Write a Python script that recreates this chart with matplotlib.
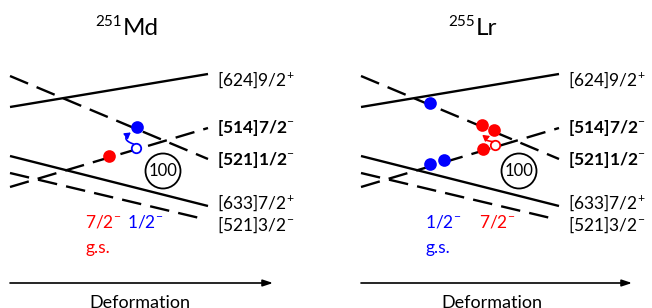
import matplotlib
matplotlib.use("Agg")
import matplotlib.pyplot as plt
import numpy as np
from matplotlib.patches import Circle

plt.rcParams['font.family'] = ['Lato', 'DejaVu Sans']
plt.rcParams['mathtext.fontset'] = 'custom'
plt.rcParams['mathtext.rm'] = 'Lato'
plt.rcParams['mathtext.bf'] = 'Lato:bold'

# ---- data ----
mass_numbers = ["251", "255"]
elements = ["Md", "Lr"]
level_names = ["[624]9/2$^{+}$", "[514]7/2$^{-}$", "[521]1/2$^{-}$", "[633]7/2$^{+}$", "[521]3/2$^{-}$"]
level_bold = [False, True, True, False, False]
level_dashed = [False, True, True, False, True]
# energies (arbitrary units) at small / large deformation
level_e_left = [201, 121, 232, 152, 135]
level_e_right = [234, 180, 149, 102, 88]
label_e = [228, 180, 148, 105, 83]
shell_gap = "100"

# occupied orbitals: (level index, deformation fraction, color, filled)
md_markers = [(1, 0.50, "red", True), (1, 0.635, "blue", False), (2, 0.64, "blue", True)]
lr_markers = [(2, 0.35, "blue", True), (1, 0.35, "blue", True), (1, 0.42, "blue", True),
              (1, 0.616, "red", True), (1, 0.677, "red", False),
              (2, 0.61, "red", True), (2, 0.67, "red", True)]
markers = [md_markers, lr_markers]
# excitation arrows: (from level, frac, to level, frac, color)
excitations = [(1, 0.625, 2, 0.62, "blue"), (1, 0.667, 2, 0.662, "red")]
state_labels = [[("7/2$^{-}$", "red"), ("1/2$^{-}$", "blue")],
                [("1/2$^{-}$", "blue"), ("7/2$^{-}$", "red")]]
gs_color = ["red", "blue"]

# ---- layout ----
fig = plt.figure(figsize=(6.52, 3.08), dpi=100)
ax = fig.add_axes([0, 0, 1, 1])
ax.set_xlim(0, 652)
ax.set_ylim(0, 308)
ax.axis("off")

panel_x0 = [10, 361]
panel_w = 198
fs = 12.5

def level_y(i, t):
    return level_e_left[i] + (level_e_right[i] - level_e_left[i]) * t

title_x = [122, 475]
gap_x = [163, 519]
for p in range(2):
    x0 = panel_x0[p]
    x1 = x0 + panel_w
    # title
    ax.text(title_x[p], 282, mass_numbers[p], fontsize=11, ha="right", va="baseline")
    ax.text(title_x[p] + 1, 273, elements[p], fontsize=17.5, ha="left", va="baseline")
    for i in range(len(level_names)):
        xr = x1 - (5 if i == 4 else 0)
        tr = (xr - x0) / panel_w
        if level_dashed[i]:
            ax.plot([x0, xr], [level_y(i, 0), level_y(i, tr)], color="black", lw=1.7,
                    linestyle=(0, (8.3, 3.9)), dash_capstyle="butt")
        else:
            ax.plot([x0, xr], [level_y(i, 0), level_y(i, tr)], color="black", lw=1.7,
                    solid_capstyle="butt")
        ax.text(x1 + 9, label_e[i], level_names[i], fontsize=fs,
                fontweight="bold" if level_bold[i] else "normal",
                ha="left", va="center")
    # shell gap circle
    ax.add_patch(Circle((gap_x[p], 137), 17.5, fill=False, lw=1.3, color="black"))
    ax.text(gap_x[p], 137, shell_gap, fontsize=fs - 0.5, ha="center", va="center")
    # occupied orbitals
    for (lv, t, c, filled) in markers[p]:
        x = x0 + t * panel_w
        y = level_y(lv, t) + 2
        ax.plot(x, y, "o", ms=7.8 if filled else 6.8, mfc=c if filled else "white",
                mec=c, mew=1.3, zorder=5)
    # excitation arrow (quadratic curve bulging left + arrow head)
    la, ta, lb, tb, c = excitations[p]
    xa, ya = x0 + ta * panel_w, level_y(la, ta) + 6
    xb, yb = x0 + tb * panel_w - 2, level_y(lb, tb) - 5
    cx, cy = min(xa, xb) - 11, (ya + yb) / 2 - 1
    s = np.linspace(0, 1, 30)
    bx = (1 - s) ** 2 * xa + 2 * (1 - s) * s * cx + s ** 2 * xb
    by = (1 - s) ** 2 * ya + 2 * (1 - s) * s * cy + s ** 2 * yb
    ax.plot(bx[:-4], by[:-4], color=c, lw=1.2, zorder=6, solid_capstyle="round")
    ax.annotate("", xy=(bx[-1], by[-1]), xytext=(bx[-6], by[-6]),
                arrowprops=dict(arrowstyle="-|>,head_length=0.5,head_width=0.3",
                                color=c, lw=1.0, shrinkA=0, shrinkB=0,
                                mutation_scale=7), zorder=6)
    # state labels
    sx = [x0 + 75, x0 + 117] if p == 0 else [x0 + 64, x0 + 118]
    for k, (s_, c_) in enumerate(state_labels[p]):
        ax.text(sx[k], 86, s_, fontsize=fs, color=c_, ha="left", va="center")
    ax.text(sx[0], 60, "g.s.", fontsize=fs, color=gs_color[p], ha="left", va="center")
    # deformation axis
    ax.annotate("", xy=(x0 + (263 if p == 0 else 271), 25), xytext=(x0, 25),
                arrowprops=dict(arrowstyle="-|>,head_length=0.6,head_width=0.2",
                                color="black", lw=1.2, shrinkA=0, shrinkB=0))
    ax.text(x0 + (130 if p == 0 else 131), 5, "Deformation", fontsize=13,
            ha="center", va="center")

fig.savefig("out.png", dpi=100)
